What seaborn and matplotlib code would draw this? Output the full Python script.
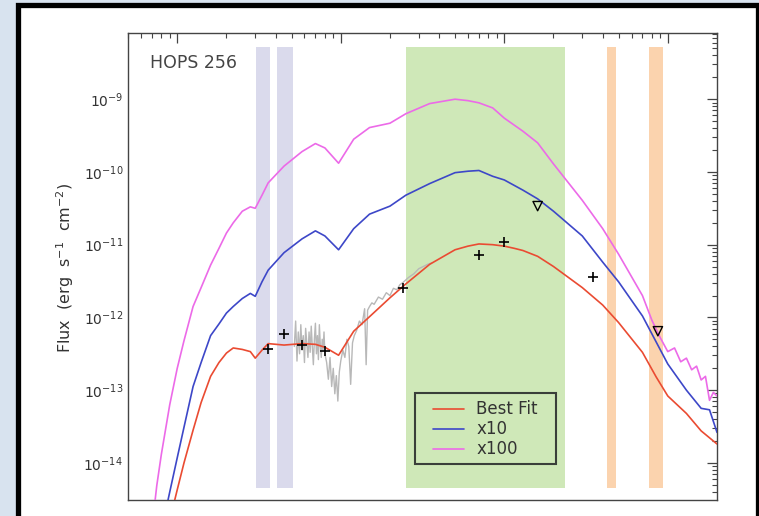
import numpy as np
import pandas as pd
import matplotlib
matplotlib.use("Agg")
import matplotlib.pyplot as plt
import seaborn as sns
from matplotlib.patches import Rectangle
from matplotlib.lines import Line2D
from matplotlib.ticker import LogLocator, NullFormatter, FixedLocator

# ---------------- data (wavelength in micron, log10 flux in erg s^-1 cm^-2) ----------------
wave_best = [0.93, 1.0, 1.1, 1.25, 1.4, 1.6, 1.8, 2.0, 2.2, 2.5, 2.8, 3.0, 3.3, 3.6, 4.5, 5.8,
             7.0, 8.0, 9.7, 12, 15, 20, 25, 35, 50, 60, 70, 85, 100, 115, 130, 160, 200, 300,
             400, 500, 700, 850, 1000, 1300, 1600, 2000]
logf_best = [-14.66, -14.37, -14.00, -13.55, -13.17, -12.81, -12.62, -12.49, -12.42, -12.44,
             -12.47, -12.56, -12.45, -12.36, -12.38, -12.36, -12.37, -12.41, -12.52, -12.19,
             -11.99, -11.73, -11.54, -11.27, -11.07, -11.02, -10.99, -11.00, -11.02, -11.05,
             -11.08, -11.16, -11.30, -11.59, -11.83, -12.07, -12.48, -12.82, -13.08, -13.32,
             -13.56, -13.74]

wave_x10 = [0.85, 0.9, 1.0, 1.1, 1.25, 1.4, 1.6, 1.8, 2.0, 2.2, 2.5, 2.8, 3.0, 3.3, 3.6, 4.5,
            5.8, 7.0, 8.0, 9.7, 12, 15, 20, 25, 35, 50, 60, 70, 85, 100, 130, 160, 200, 300,
            400, 500, 700, 1000, 1300, 1600, 1800, 2000]
logf_x10 = [-14.66, -14.40, -13.93, -13.51, -12.95, -12.62, -12.25, -12.09, -11.94, -11.85,
            -11.74, -11.67, -11.71, -11.51, -11.35, -11.11, -10.92, -10.81, -10.88, -11.07,
            -10.78, -10.58, -10.47, -10.32, -10.16, -10.01, -9.99, -9.98, -10.06, -10.11,
            -10.25, -10.37, -10.54, -10.88, -11.24, -11.51, -11.98, -12.64, -13.00, -13.25,
            -13.27, -13.58]

wave_x100 = [0.7, 0.75, 0.8, 0.9, 1.0, 1.1, 1.25, 1.4, 1.6, 1.8, 2.0, 2.2, 2.5, 2.8, 3.0, 3.3,
             3.6, 4.5, 5.8, 7.0, 8.0, 9.7, 12, 15, 20, 25, 35, 50, 60, 70, 85, 100, 130, 160,
             200, 300, 400, 500, 700, 800, 900, 1000, 1100, 1200, 1300, 1400, 1500, 1600, 1700,
             1800, 1900, 2000]
logf_x100 = [-14.90, -14.31, -13.88, -13.20, -12.70, -12.32, -11.85, -11.59, -11.28, -11.05,
             -10.84, -10.70, -10.54, -10.48, -10.50, -10.32, -10.15, -9.92, -9.72, -9.61,
             -9.67, -9.88, -9.55, -9.39, -9.33, -9.20, -9.06, -9.00, -9.02, -9.05, -9.12,
             -9.26, -9.44, -9.60, -9.89, -10.39, -10.78, -11.13, -11.70, -12.04, -12.28,
             -12.47, -12.42, -12.61, -12.56, -12.72, -12.67, -12.86, -12.81, -13.14, -13.03,
             -13.08]

wave_irs = [5.2, 5.3, 5.4, 5.5, 5.6, 5.7, 5.8, 5.9, 6.0, 6.1, 6.2, 6.3, 6.4, 6.5, 6.6, 6.7, 6.8,
            6.9, 7.0, 7.1, 7.2, 7.3, 7.4, 7.5, 7.6, 7.7, 7.8, 7.9, 8.0, 8.2, 8.4, 8.6, 8.8, 9.0,
            9.2, 9.4, 9.6, 9.8, 10.0, 10.3, 10.6, 10.9, 11.2, 11.5, 11.8, 12.1, 12.5, 13.0, 13.5,
            14.0, 14.3, 14.6, 15.0, 15.5, 16, 17, 18, 19, 20, 21, 22, 23, 24, 26, 28, 30, 32, 34,
            36]
logf_irs = [-12.40, -12.05, -12.60, -12.20, -12.50, -12.10, -12.45, -12.25, -12.62, -12.15,
            -12.35, -12.55, -12.20, -12.48, -12.12, -12.40, -12.65, -12.30, -12.08, -12.50,
            -12.25, -12.58, -12.10, -12.38, -12.55, -12.30, -12.45, -12.20, -12.50, -12.62,
            -12.85, -12.55, -12.95, -12.70, -13.05, -12.80, -13.15, -12.75, -12.60, -12.45,
            -12.55, -12.30, -12.40, -12.92, -12.35, -12.25, -12.18, -12.05, -12.10, -11.88,
            -12.65, -11.90, -11.85, -11.80, -11.82, -11.72, -11.75, -11.66, -11.70, -11.60,
            -11.62, -11.55, -11.52, -11.45, -11.40, -11.33, -11.30, -11.27, -11.25]

phot_wave = [3.6, 4.5, 5.8, 8.0, 24, 70, 100, 350]
phot_logf = [-12.43, -12.23, -12.38, -12.46, -11.60, -11.14, -10.97, -11.45]
limit_wave = [160, 870]
limit_logf = [-10.47, -12.19]

bands_blue = [(3.02, 3.68), (4.06, 5.08)]
bands_green = [(25.0, 234.0)]
bands_orange = [(422.0, 481.0), (766.0, 929.0)]

y_decades = [-14, -13, -12, -11, -10, -9]
x_decades = [0, 1, 2, 3]

series_labels = ["Best Fit", "x10", "x100"]
series_colors = ["#ea4b32", "#3d47c8", "#ec6ae8"]
object_name = "HOPS 256"

# ---------------- figure ----------------
sns.set_style("white")
plt.rcParams["font.family"] = ["DejaVu Sans"]
plt.rcParams["mathtext.fontset"] = "dejavusans"

W, H = 759, 516
fig = plt.figure(figsize=(W / 100, H / 100), dpi=100, facecolor="#d8e3ef")
fig.patches.append(Rectangle((17.5 / W, -0.05), (757.5 - 17.5) / W, 1 - 5.5 / H + 0.05,
                             transform=fig.transFigure, facecolor="white",
                             edgecolor="black", linewidth=3.8, zorder=-5))

ax = fig.add_axes([128 / W, 1 - 500 / H, (717 - 128) / W, (500 - 33) / H])
ax.set_facecolor("none")
ax.set_xscale("log")
ax.set_yscale("log")

ymin_f, ymax_f = 0.026, 0.970
for lo, hi in bands_blue:
    ax.axvspan(lo, hi, ymin=ymin_f, ymax=ymax_f, color="#dadaec", lw=0, zorder=0)
for lo, hi in bands_green:
    ax.axvspan(lo, hi, ymin=ymin_f, ymax=ymax_f, color="#cfe8b8", lw=0, zorder=0)
for lo, hi in bands_orange:
    ax.axvspan(lo, hi, ymin=ymin_f, ymax=ymax_f, color="#fbd3ae", lw=0, zorder=0)

df_irs = pd.DataFrame({"wave": wave_irs, "flux": 10 ** np.array(logf_irs)})
sns.lineplot(data=df_irs, x="wave", y="flux", ax=ax, color="#b8b8b8", lw=1.0, zorder=2,
             legend=False)

for wv, lf, lab, col in zip([wave_best, wave_x10, wave_x100],
                            [logf_best, logf_x10, logf_x100], series_labels, series_colors):
    d = pd.DataFrame({"wave": wv, "flux": 10 ** np.array(lf)})
    sns.lineplot(data=d, x="wave", y="flux", ax=ax, color=col, lw=1.2, zorder=3,
                 legend=False)

sns.scatterplot(x=phot_wave, y=10 ** np.array(phot_logf), ax=ax, marker="+", s=55,
                color="black", linewidth=1.2, zorder=5, legend=False)
ax.scatter(limit_wave, 10 ** np.array(limit_logf), marker="v", s=45, facecolors="none",
           edgecolors="black", linewidths=1.0, zorder=5)

ax.set_xlim(0.5, 2000)
ax.set_ylim(10 ** -14.51, 10 ** -8.09)

# ticks (only decades inside the visible range)
ax.xaxis.set_major_locator(FixedLocator([10.0 ** k for k in x_decades]))
ax.yaxis.set_major_locator(FixedLocator([10.0 ** k for k in y_decades]))
for axis in (ax.xaxis, ax.yaxis):
    axis.set_minor_locator(LogLocator(base=10, subs=np.arange(2, 10), numticks=100))
    axis.set_minor_formatter(NullFormatter())
ax.xaxis.set_major_formatter(NullFormatter())
ax.tick_params(which="both", direction="in", top=True, right=True, colors="#444444",
               labelcolor="#333333", labelsize=10)
ax.tick_params(which="major", length=7.5, width=0.9)
ax.tick_params(which="minor", length=3.8, width=0.8)
ax.tick_params(axis="x", labelbottom=False)
for s in ax.spines.values():
    s.set_color("#444444")
    s.set_linewidth(1.0)

ax.set_xlabel("")
ax.set_ylabel(r"Flux  (erg  s$^{-1}$  cm$^{-2}$)", fontsize=11.5, color="#333333")
ax.yaxis.set_label_coords(-0.088, 0.498)

ax.text(0.038, 0.935, object_name, transform=ax.transAxes, fontsize=12.5, color="#444444",
        ha="left", va="center")

# legend (frame drawn as a separate box, as in the original)
handles = [Line2D([0], [0], color=c, lw=1.2) for c in series_colors]
leg = ax.legend(handles, series_labels, loc="upper left", bbox_to_anchor=(0.5178, 0.2133),
                fontsize=12, frameon=False, handlelength=1.84, handletextpad=0.77,
                labelspacing=0.12, borderpad=0, borderaxespad=0)
for t in leg.get_texts():
    t.set_color("#333333")
ax.add_patch(Rectangle((0.4873, 0.0771), 0.2389, 0.152, transform=ax.transAxes, fill=False,
                       edgecolor="#3a3f3a", lw=1.5, zorder=6))

fig.savefig("out.png", dpi=100, facecolor=fig.get_facecolor())
